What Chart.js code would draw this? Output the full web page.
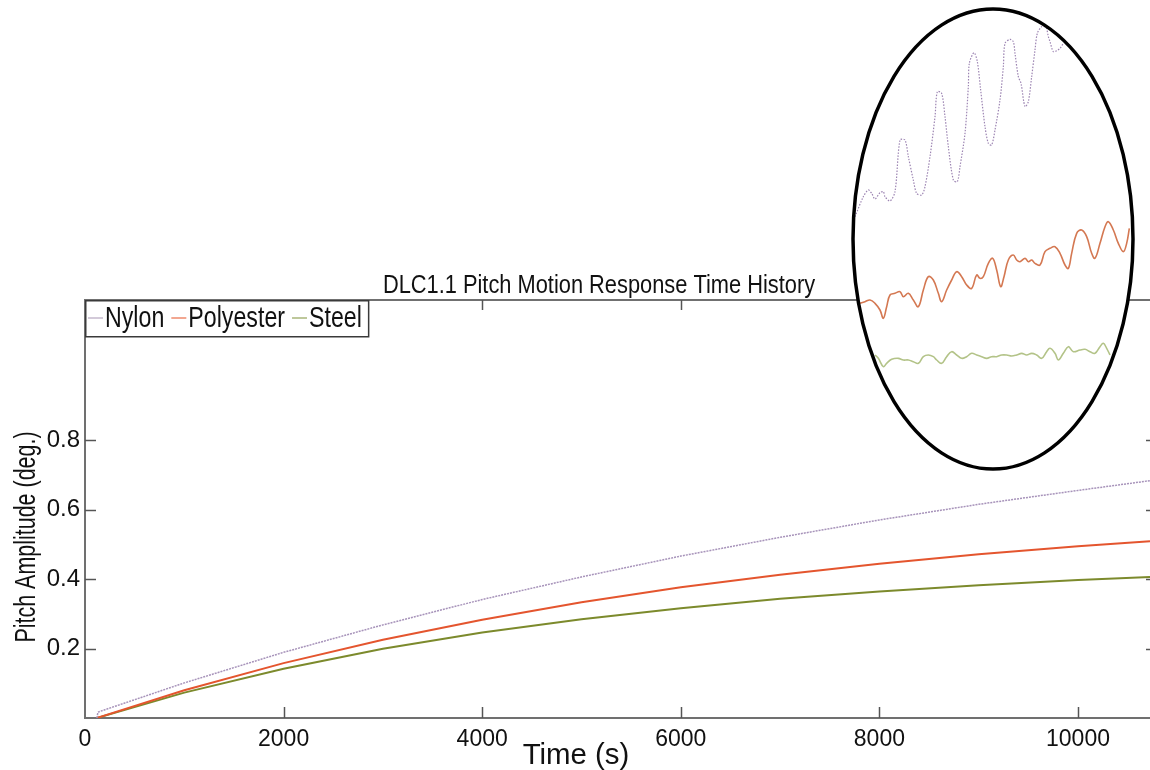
<!DOCTYPE html>
<html lang="en">
<head>
    <meta charset="UTF-8">
    <title>DLC1.1 Pitch Motion Response Time History</title>
    <script src="https://cdn.jsdelivr.net/npm/chart.js"></script>
    <style>
        * {
            margin: 0;
            padding: 0;
            box-sizing: border-box;
        }

        body {
            background: #fff;
            width: 1150px;
            height: 770px;
            overflow: hidden;
        }

        .wrap {
            position: relative;
            width: 1150px;
            height: 770px;
        }

        #pitchChart {
            position: absolute;
            left: 0;
            top: 0;
        }

        #zoomChart {
            position: absolute;
            left: 850px;
            top: 0;
        }
    </style>
</head>
<body>
    <div class="wrap">
        <canvas id="pitchChart" width="1150" height="770"></canvas>
        <canvas id="zoomChart" width="300" height="480"></canvas>
    </div>

    <script>
        // Time history (s) and pitch amplitude (deg.) per mooring material
        const timeSec   = [120, 130, 1000, 2000, 3000, 4000, 5000, 6000, 7000, 8000, 9000, 10000, 10725];
        const nylon     = [0, 0.017, 0.101, 0.189, 0.268, 0.341, 0.406, 0.466, 0.520, 0.570, 0.615, 0.655, 0.683];
        const polyester = [0, 0.001, 0.080, 0.158, 0.225, 0.283, 0.333, 0.376, 0.412, 0.444, 0.471, 0.494, 0.509];
        const steel     = [0, 0.001, 0.073, 0.142, 0.199, 0.246, 0.284, 0.316, 0.343, 0.364, 0.382, 0.397, 0.406];

        const xTicks = [0, 2000, 4000, 6000, 8000, 10000];
        const yTicks = [0.2, 0.4, 0.6, 0.8];

        // Close-up window (local units), one x/y pair of arrays per series
        const zoomNylonX = [15, 40, 55, 65, 75, 90, 100, 105, 120, 135, 150, 165, 175, 190, 200, 215, 225, 240, 255, 262, 275, 285, 295, 310, 322, 330, 345, 355, 358, 372, 382, 392, 405, 415, 425, 435, 450, 460, 465, 480, 490, 495, 505, 513, 525, 535, 545, 555, 562, 575, 588, 595, 600, 610, 620, 630, 640];
        const zoomNylonY = [790, 850, 870, 860, 843, 862, 865, 850, 837, 865, 1020, 1020, 970, 900, 860, 855, 880, 970, 1090, 1165, 1160, 1090, 1000, 900, 895, 940, 1040, 1180, 1250, 1282, 1255, 1170, 1060, 1010, 1005, 1050, 1140, 1240, 1310, 1322, 1315, 1280, 1210, 1190, 1120, 1135, 1210, 1290, 1340, 1360, 1358, 1330, 1315, 1285, 1288, 1295, 1310];

        const zoomPolyX = [30, 45, 60, 75, 90, 100, 110, 120, 135, 150, 160, 175, 190, 205, 220, 235, 250, 265, 275, 290, 305, 320, 335, 350, 365, 380, 390, 400, 415, 428, 440, 452, 462, 475, 490, 500, 510, 525, 535, 545, 555, 570, 585, 600, 615, 630, 645, 655, 665, 680, 695, 710, 725, 735, 750, 765, 775, 790, 805, 820, 830, 838];
        const zoomPolyY = [530, 535, 540, 530, 510, 485, 520, 555, 560, 565, 550, 560, 540, 520, 570, 610, 600, 560, 535, 570, 600, 625, 610, 585, 575, 615, 605, 610, 650, 665, 630, 580, 610, 660, 675, 660, 655, 665, 655, 660, 650, 645, 685, 695, 700, 680, 645, 635, 680, 740, 750, 730, 680, 665, 710, 760, 775, 750, 710, 685, 710, 755];

        const zoomSteelX = [75, 85, 100, 110, 125, 145, 160, 175, 190, 205, 220, 235, 250, 260, 275, 290, 305, 320, 335, 350, 365, 380, 395, 410, 425, 440, 455, 470, 485, 500, 515, 530, 545, 560, 575, 590, 600, 615, 625, 640, 655, 670, 690, 705, 720, 735, 750, 760, 770, 780];
        const zoomSteelY = [375, 365, 340, 350, 362, 365, 360, 360, 355, 350, 370, 375, 370, 360, 350, 370, 385, 375, 365, 370, 380, 375, 370, 365, 370, 370, 375, 375, 372, 375, 380, 375, 380, 375, 365, 385, 395, 380, 360, 380, 400, 385, 390, 392, 385, 380, 400, 410, 395, 375];

        const FONT = '"Liberation Sans", Arial, sans-serif';
        const AXIS_GREY = '#707070';

        const pairs = (xs, ys) => xs.map((x, i) => ({ x: x, y: ys[i] }));

        // text in a narrow face: horizontal squeeze by sx, optional rotation
        function narrowText(ctx, str, x, y, size, sx, align, rot) {
            ctx.save();
            ctx.translate(x, y);
            if (rot) ctx.rotate(rot);
            ctx.scale(sx, 1);
            ctx.font = size + 'px ' + FONT;
            ctx.fillStyle = '#111';
            ctx.textAlign = align;
            ctx.textBaseline = 'alphabetic';
            ctx.fillText(str, 0, 0);
            ctx.restore();
        }

        function seg(ctx, x1, y1, x2, y2) {
            ctx.beginPath();
            ctx.moveTo(x1, y1);
            ctx.lineTo(x2, y2);
            ctx.stroke();
        }

        // closed axes box with inward ticks, boxed legend and labels
        const axesBox = {
            id: 'axesBox',
            afterDatasetsDraw(chart) {
                const { ctx, chartArea: a, scales: { x, y } } = chart;
                ctx.save();
                ctx.strokeStyle = AXIS_GREY;
                ctx.lineWidth = 2;
                seg(ctx, a.left, a.top, a.right, a.top);

                ctx.strokeStyle = '#555';
                ctx.lineWidth = 1.5;
                x.ticks.forEach(t => {
                    const px = Math.round(x.getPixelForValue(t.value)) + 0.5;
                    if (px <= a.left + 2) return;
                    seg(ctx, px, a.bottom, px, a.bottom - 11);
                    seg(ctx, px, a.top, px, a.top + 10);
                });
                y.ticks.forEach(t => {
                    const py = Math.round(y.getPixelForValue(t.value)) + 0.5;
                    seg(ctx, a.left, py, a.left + 11, py);
                    seg(ctx, a.right, py, a.right - 4, py);
                });

                // legend box
                const lx = a.left, ly = a.top, lh = 36;
                const size = 29, sx = 0.8;
                ctx.font = size + 'px ' + FONT;
                let cx = lx + 3;
                const items = chart.data.datasets.map(ds => {
                    const w = ctx.measureText(ds.label).width * sx;
                    return { ds, w };
                });
                const total = items.reduce((s, it) => s + 18 + it.w + 6, 0);
                ctx.fillStyle = '#fff';
                ctx.fillRect(lx, ly, total + 2, lh);
                ctx.strokeStyle = '#3a3a3a';
                ctx.lineWidth = 1.5;
                ctx.strokeRect(lx + 0.75, ly + 0.75, total + 2, lh);
                items.forEach(it => {
                    ctx.strokeStyle = it.ds.legendColor || it.ds.borderColor;
                    ctx.lineWidth = 1.5;
                    ctx.setLineDash([]);
                    seg(ctx, cx, ly + 18, cx + 15, ly + 18);
                    narrowText(ctx, it.ds.label, cx + 17, ly + 27, size, sx, 'left');
                    cx += 18 + it.w + 6;
                });

                // title and axis labels
                narrowText(ctx, 'DLC1.1 Pitch Motion Response Time History', 599, 293, 25, 0.873, 'center');
                narrowText(ctx, 'Time (s)', 576, 764, 30, 0.98, 'center');
                narrowText(ctx, 'Pitch Amplitude (deg.)', 35, 537, 29, 0.74, 'center', -Math.PI / 2);
                ctx.restore();
            }
        };

        new Chart(document.getElementById('pitchChart'), {
            type: 'line',
            data: {
                datasets: [
                    {
                        label: 'Nylon',
                        data: pairs(timeSec, nylon),
                        borderColor: '#a793ba',
                        legendColor: '#c4b8cc',
                        borderWidth: 1.5,
                        borderDash: [2, 1],
                        pointRadius: 0,
                        tension: 0
                    },
                    {
                        label: 'Polyester',
                        data: pairs(timeSec, polyester),
                        borderColor: '#e4552e',
                        legendColor: '#ee8a6c',
                        borderWidth: 2,
                        pointRadius: 0,
                        tension: 0
                    },
                    {
                        label: 'Steel',
                        data: pairs(timeSec, steel),
                        borderColor: '#7c8a2c',
                        legendColor: '#a9b67a',
                        borderWidth: 2,
                        pointRadius: 0,
                        tension: 0
                    }
                ]
            },
            options: {
                responsive: false,
                animation: false,
                devicePixelRatio: 1,
                layout: { padding: { top: 300, left: 0, right: 0, bottom: 0 } },
                plugins: {
                    legend: { display: false },
                    tooltip: { enabled: false }
                },
                scales: {
                    x: {
                        type: 'linear',
                        min: 0,
                        max: 10725,
                        afterBuildTicks: s => { s.ticks = xTicks.map(v => ({ value: v })); },
                        afterFit: s => { s.height = 52; },
                        grid: { drawOnChartArea: false, drawTicks: false },
                        border: { display: true, color: AXIS_GREY, width: 2 },
                        ticks: {
                            padding: 8,
                            color: '#111',
                            maxRotation: 0,
                            font: { family: FONT, size: 23 },
                            callback: v => String(v)
                        }
                    },
                    y: {
                        min: 0,
                        max: 1.203,
                        afterBuildTicks: s => { s.ticks = yTicks.map(v => ({ value: v })); },
                        afterFit: s => { s.width = 85; },
                        grid: { drawOnChartArea: false, drawTicks: false },
                        border: { display: true, color: AXIS_GREY, width: 2 },
                        ticks: {
                            padding: 5,
                            color: '#111',
                            font: { family: FONT, size: 24 },
                            callback: v => v.toFixed(1)
                        }
                    }
                }
            },
            plugins: [axesBox]
        });

        // elliptical magnifier: white fill, clipped traces, thick black rim
        const ELL = { cx: 143, cy: 239, rx: 140, ry: 230 };
        function ellipsePath(ctx) {
            ctx.beginPath();
            ctx.ellipse(ELL.cx, ELL.cy, ELL.rx, ELL.ry, 0, 0, Math.PI * 2);
        }
        const magnifier = {
            id: 'magnifier',
            beforeDraw(chart) {
                const ctx = chart.ctx;
                ctx.save();
                ellipsePath(ctx);
                ctx.fillStyle = '#fff';
                ctx.fill();
                ctx.restore();
            },
            beforeDatasetsDraw(chart) {
                chart.ctx.save();
                ellipsePath(chart.ctx);
                chart.ctx.clip();
            },
            afterDatasetsDraw(chart) {
                chart.ctx.restore();
                const ctx = chart.ctx;
                ctx.save();
                ellipsePath(ctx);
                ctx.strokeStyle = '#000';
                ctx.lineWidth = 3.5;
                ctx.stroke();
                ctx.restore();
            }
        };

        new Chart(document.getElementById('zoomChart'), {
            type: 'line',
            data: {
                datasets: [
                    {
                        label: 'Nylon',
                        data: pairs(zoomNylonX, zoomNylonY),
                        borderColor: '#9c84b2',
                        borderWidth: 1.2,
                        borderDash: [1.5, 1.5],
                        pointRadius: 0,
                        tension: 0.3
                    },
                    {
                        label: 'Polyester',
                        data: pairs(zoomPolyX, zoomPolyY),
                        borderColor: '#d47852',
                        borderWidth: 1.6,
                        pointRadius: 0,
                        tension: 0.4
                    },
                    {
                        label: 'Steel',
                        data: pairs(zoomSteelX, zoomSteelY),
                        borderColor: '#b3c388',
                        borderWidth: 1.6,
                        pointRadius: 0,
                        tension: 0.4
                    }
                ]
            },
            options: {
                responsive: false,
                animation: false,
                devicePixelRatio: 1,
                layout: { padding: 0 },
                plugins: {
                    legend: { display: false },
                    tooltip: { enabled: false }
                },
                scales: {
                    x: { type: 'linear', display: false, min: 0, max: 900 },
                    y: { display: false, min: 0, max: 1440 }
                }
            },
            plugins: [magnifier]
        });
    </script>
</body>
</html>
